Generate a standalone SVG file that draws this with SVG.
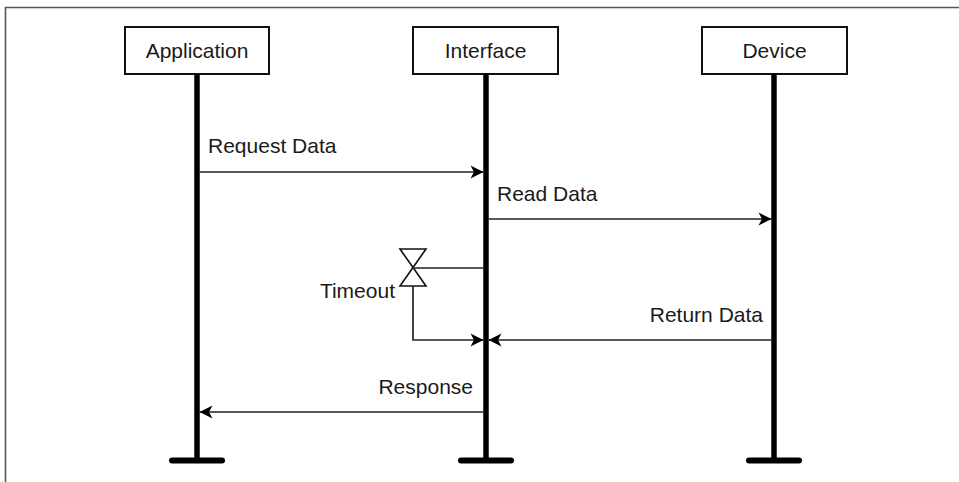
<svg xmlns="http://www.w3.org/2000/svg" width="959" height="482" viewBox="0 0 959 482">
  <style>
    .box { fill: #fff; stroke: #111; stroke-width: 2; }
    .life { stroke: #000; stroke-width: 5.5; fill: none; }
    .foot { stroke: #000; stroke-width: 6; stroke-linecap: round; fill: none; }
    .msg { stroke: #222; stroke-width: 1.7; fill: none; }
    .lbl { font-family: "Liberation Sans", Arial, sans-serif; font-size: 21px; fill: #1a1a1a; }
    .frame { stroke: #555; stroke-width: 1.6; fill: none; }
  </style>
  <defs>
    <marker id="arr" markerUnits="userSpaceOnUse" markerWidth="16" markerHeight="16" viewBox="0 0 16 16" refX="14" refY="8" orient="auto">
      <path d="M1,1.5 L14,8 L1,14.5 L4.5,8 Z" fill="#000"/>
    </marker>
  </defs>
  <rect width="959" height="482" fill="#fff"/>
  <path class="frame" d="M5.5,482 V7.5 H959"/>

  <g id="application">
    <rect class="box" x="125" y="27" width="144" height="47"/>
    <text class="lbl" x="197" y="57.5" text-anchor="middle">Application</text>
    <line class="life" x1="197" y1="74" x2="197" y2="460.5"/>
    <line class="foot" x1="172" y1="460.5" x2="222" y2="460.5"/>
  </g>
  <g id="interface">
    <rect class="box" x="413" y="27" width="145" height="47"/>
    <text class="lbl" x="485.5" y="57.5" text-anchor="middle">Interface</text>
    <line class="life" x1="486" y1="74" x2="486" y2="460.5"/>
    <line class="foot" x1="461" y1="460.5" x2="511" y2="460.5"/>
  </g>
  <g id="device">
    <rect class="box" x="702" y="27" width="145" height="47"/>
    <text class="lbl" x="774.5" y="57.5" text-anchor="middle">Device</text>
    <line class="life" x1="774" y1="74" x2="774" y2="460.5"/>
    <line class="foot" x1="749" y1="460.5" x2="799" y2="460.5"/>
  </g>
  <g id="timeout">
    <path d="M400,249 H426 L400,286 H426 Z" fill="#fff" stroke="#111" stroke-width="1.6" stroke-linejoin="miter"/>
    <text class="lbl" x="395" y="298" text-anchor="end">Timeout</text>
  </g>

  <g id="connectors">
    <line class="msg" x1="199.5" y1="172" x2="483.5" y2="172" marker-end="url(#arr)"/>
    <text class="lbl" x="208" y="153">Request Data</text>
    <line class="msg" x1="488.5" y1="219" x2="771.5" y2="219" marker-end="url(#arr)"/>
    <text class="lbl" x="497" y="201">Read Data</text>
    <line class="msg" x1="413" y1="268" x2="483.5" y2="268"/>
    <path class="msg" d="M413,286 V340 H483.5" marker-end="url(#arr)"/>
    <line class="msg" x1="771.5" y1="340" x2="488.5" y2="340" marker-end="url(#arr)"/>
    <text class="lbl" x="763" y="322" text-anchor="end">Return Data</text>
    <line class="msg" x1="483.5" y1="412" x2="199.5" y2="412" marker-end="url(#arr)"/>
    <text class="lbl" x="473" y="394" text-anchor="end">Response</text>
  </g>
</svg>
